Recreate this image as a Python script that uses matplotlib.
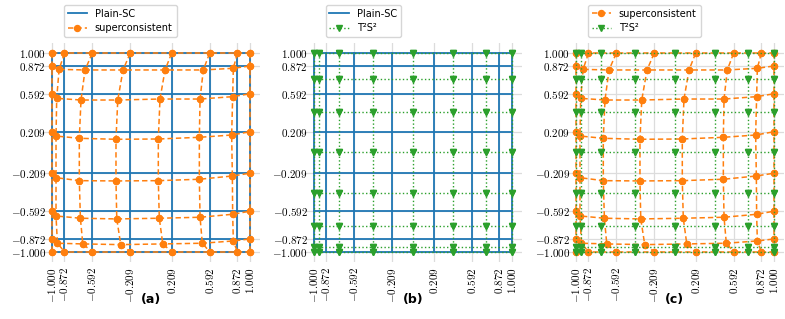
import numpy as np
import matplotlib.pyplot as plt

plt.rcParams['mathtext.fontset'] = 'cm'

# Gauss-Lobatto nodes (Plain-SC grid and tick positions)
gll = [-1.0, -0.872, -0.592, -0.209, 0.209, 0.592, 0.872, 1.0]

# T2S2 nodes
t2s2 = [-1.0, -0.949, -0.741, -0.406, 0.0, 0.406, 0.741, 1.0]

# superconsistent nodes, one row per list, top (y=1) to bottom (y=-1)
sc_x = [
    [-1.0, -0.872, -0.592, -0.209, 0.209, 0.592, 0.872, 1.0],
    [-1.0, -0.926, -0.664, -0.281, 0.143, 0.529, 0.832, 1.0],
    [-1.0, -0.950, -0.705, -0.334, 0.092, 0.496, 0.825, 1.0],
    [-1.0, -0.957, -0.722, -0.352, 0.075, 0.489, 0.815, 1.0],
    [-1.0, -0.957, -0.722, -0.352, 0.075, 0.489, 0.822, 1.0],
    [-1.0, -0.957, -0.711, -0.344, 0.085, 0.496, 0.825, 1.0],
    [-1.0, -0.943, -0.687, -0.304, 0.120, 0.519, 0.832, 1.0],
    [-1.0, -0.872, -0.592, -0.209, 0.209, 0.592, 0.872, 1.0],
]
sc_y = [
    [1.0, 1.0, 1.0, 1.0, 1.0, 1.0, 1.0, 1.0],
    [0.872, 0.838, 0.832, 0.832, 0.832, 0.832, 0.849, 0.872],
    [0.592, 0.546, 0.529, 0.529, 0.539, 0.539, 0.563, 0.592],
    [0.209, 0.166, 0.143, 0.133, 0.136, 0.153, 0.176, 0.209],
    [-0.209, -0.254, -0.284, -0.287, -0.284, -0.270, -0.237, -0.209],
    [-0.592, -0.640, -0.663, -0.670, -0.663, -0.653, -0.623, -0.592],
    [-0.872, -0.915, -0.922, -0.929, -0.922, -0.915, -0.892, -0.872],
    [-1.0, -1.0, -1.0, -1.0, -1.0, -1.0, -1.0, -1.0],
]

panel_labels = ['(a)', '(b)', '(c)']
tick_labels = ['$%.3f$' % v for v in gll]

blue = '#1f77b4'
orange = '#ff7f0e'
green = '#2ca02c'


def plot_grid(ax, X, Y, label, **kw):
    X = np.asarray(X)
    Y = np.asarray(Y)
    for r in range(X.shape[0]):
        ax.plot(X[r], Y[r], label=label if r == 0 else None, **kw)
    for c in range(X.shape[1]):
        ax.plot(X[:, c], Y[:, c], **kw)


def plain_sc(ax):
    gx, gy = np.meshgrid(gll, gll)
    plot_grid(ax, gx, gy, 'Plain-SC', color=blue, lw=1.3, ls='-')


def superconsistent(ax):
    plot_grid(ax, sc_x, sc_y, 'superconsistent', color=orange, lw=1.1,
              ls='--', marker='o', markersize=4.3, dashes=(3.5, 2))


def t2s2_grid(ax):
    gx, gy = np.meshgrid(t2s2, t2s2[::-1])
    plot_grid(ax, gx, gy, 'T²S²', color=green, lw=1.0, ls=':',
              marker='v', markersize=4.3)


fig = plt.figure(figsize=(7.85, 3.19), dpi=100)
lefts = [0.0533, 0.3870, 0.7208]
axes = [fig.add_axes([l, 0.18, 0.2778, 0.684]) for l in lefts]

plain_sc(axes[0])
superconsistent(axes[0])
plain_sc(axes[1])
t2s2_grid(axes[1])
superconsistent(axes[2])
t2s2_grid(axes[2])

for ax, lab in zip(axes, panel_labels):
    ax.set_xlim(-1.1, 1.1)
    ax.set_ylim(-1.1, 1.1)
    ax.set_xticks(gll, labels=tick_labels, rotation=90, fontsize=8)
    ax.set_yticks(gll, labels=tick_labels, fontsize=8)
    ax.tick_params(length=0)
    ax.tick_params(axis='x', pad=4)
    ax.tick_params(axis='y', pad=-3)
    ax.grid(True, color='#dcdcdc', lw=0.9)
    ax.set_axisbelow(True)
    for s in ax.spines.values():
        s.set_visible(False)
    ax.legend(loc='lower left', bbox_to_anchor=(0.1, 1.028), borderaxespad=0,
              fontsize=7, edgecolor='#cccccc')
    pos = ax.get_position()
    fig.text(pos.x0 + pos.width / 2, 0.04, lab, ha='center', va='bottom',
             fontsize=9, fontweight='bold')

fig.savefig('out.png', dpi=100)
